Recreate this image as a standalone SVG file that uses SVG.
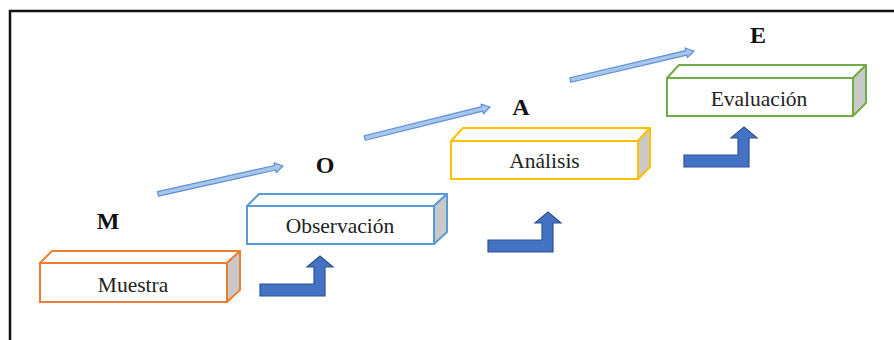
<svg xmlns="http://www.w3.org/2000/svg" width="894" height="340" viewBox="0 0 894 340">
<style>
.frame{fill:none;stroke:#111;stroke-width:2.5}
.front{fill:#fff;stroke-width:2}
.top{fill:#fff;stroke-width:2;stroke-linejoin:round}
.side{fill:#C9C9C9;stroke-width:2;stroke-linejoin:round}
.lbl{font-family:"Liberation Serif","Times New Roman",serif;font-size:21.5px;fill:#222;text-anchor:middle}
.big{font-family:"Liberation Serif","Times New Roman",serif;font-size:24px;font-weight:bold;fill:#111;text-anchor:middle}
.thin{fill:#A9C6EA;stroke:#5B8FD6;stroke-width:1.2;stroke-linejoin:round}
.bent{fill:#4472C4;stroke:#2F528F;stroke-width:1.2;stroke-linejoin:miter}
</style>
<defs>
<polygon id="thinArrow" points="0,-2.3 -8,-2.3 -8,-5 0,0 -8,5 -8,2.3 0,2.3" />
<polygon id="bentArrow" points="0,0 54,0 54,-17 47,-17 60,-28 73,-17 65,-17 65,12 0,12"/>
</defs>
<rect class="frame" x="10" y="11" width="900" height="345"/>

<g id="node-muestra" stroke="#ED7D31">
<polygon class="top" points="40,263 52,251 240,251 227,263"/>
<polygon class="side" points="227,263 240,251 240,290 227,302"/>
<rect class="front" x="40" y="263" width="187" height="39"/>
<text class="lbl" x="133" y="292" stroke="none">Muestra</text>
</g>
<g id="node-observacion" stroke="#5B9BD5">
<polygon class="top" points="247,206 259,194 447,194 434,206"/>
<polygon class="side" points="434,206 447,194 447,232 434,244"/>
<rect class="front" x="247" y="206" width="187" height="38"/>
<text class="lbl" x="340" y="233" stroke="none">Observación</text>
</g>
<g id="node-analisis" stroke="#FFC000">
<polygon class="top" points="451,141 463,128 650,128 638,141"/>
<polygon class="side" points="638,141 650,128 650,167 638,179"/>
<rect class="front" x="451" y="141" width="187" height="38"/>
<text class="lbl" x="544.5" y="168" stroke="none">Análisis</text>
</g>
<g id="node-evaluacion" stroke="#70AD47">
<polygon class="top" points="667,78 679,65 866,65 853,78"/>
<polygon class="side" points="853,78 866,65 866,103 853,116"/>
<rect class="front" x="667" y="78" width="186" height="38"/>
<text class="lbl" x="759" y="106" stroke="none">Evaluación</text>
</g>

<g id="labels">
<text class="big" x="108" y="229">M</text>
<text class="big" x="325" y="173">O</text>
<text class="big" x="521" y="115">A</text>
<text class="big" x="758" y="43">E</text>
</g>

<g id="connectors">
<g transform="translate(283,166) rotate(-12.6)"><polygon class="thin" points="-128,-2.3 -8,-2.3 -8,-5 0,0 -8,5 -8,2.3 -128,2.3"/></g>
<g transform="translate(490,107) rotate(-13.9)"><polygon class="thin" points="-129,-2.3 -8,-2.3 -8,-5 0,0 -8,5 -8,2.3 -129,2.3"/></g>
<g transform="translate(694,51) rotate(-13.2)"><polygon class="thin" points="-127,-2.3 -8,-2.3 -8,-5 0,0 -8,5 -8,2.3 -127,2.3"/></g>
<use href="#bentArrow" class="bent" x="260" y="284"/>
<use href="#bentArrow" class="bent" x="488" y="240"/>
<use href="#bentArrow" class="bent" x="684" y="155"/>
</g>
</svg>
